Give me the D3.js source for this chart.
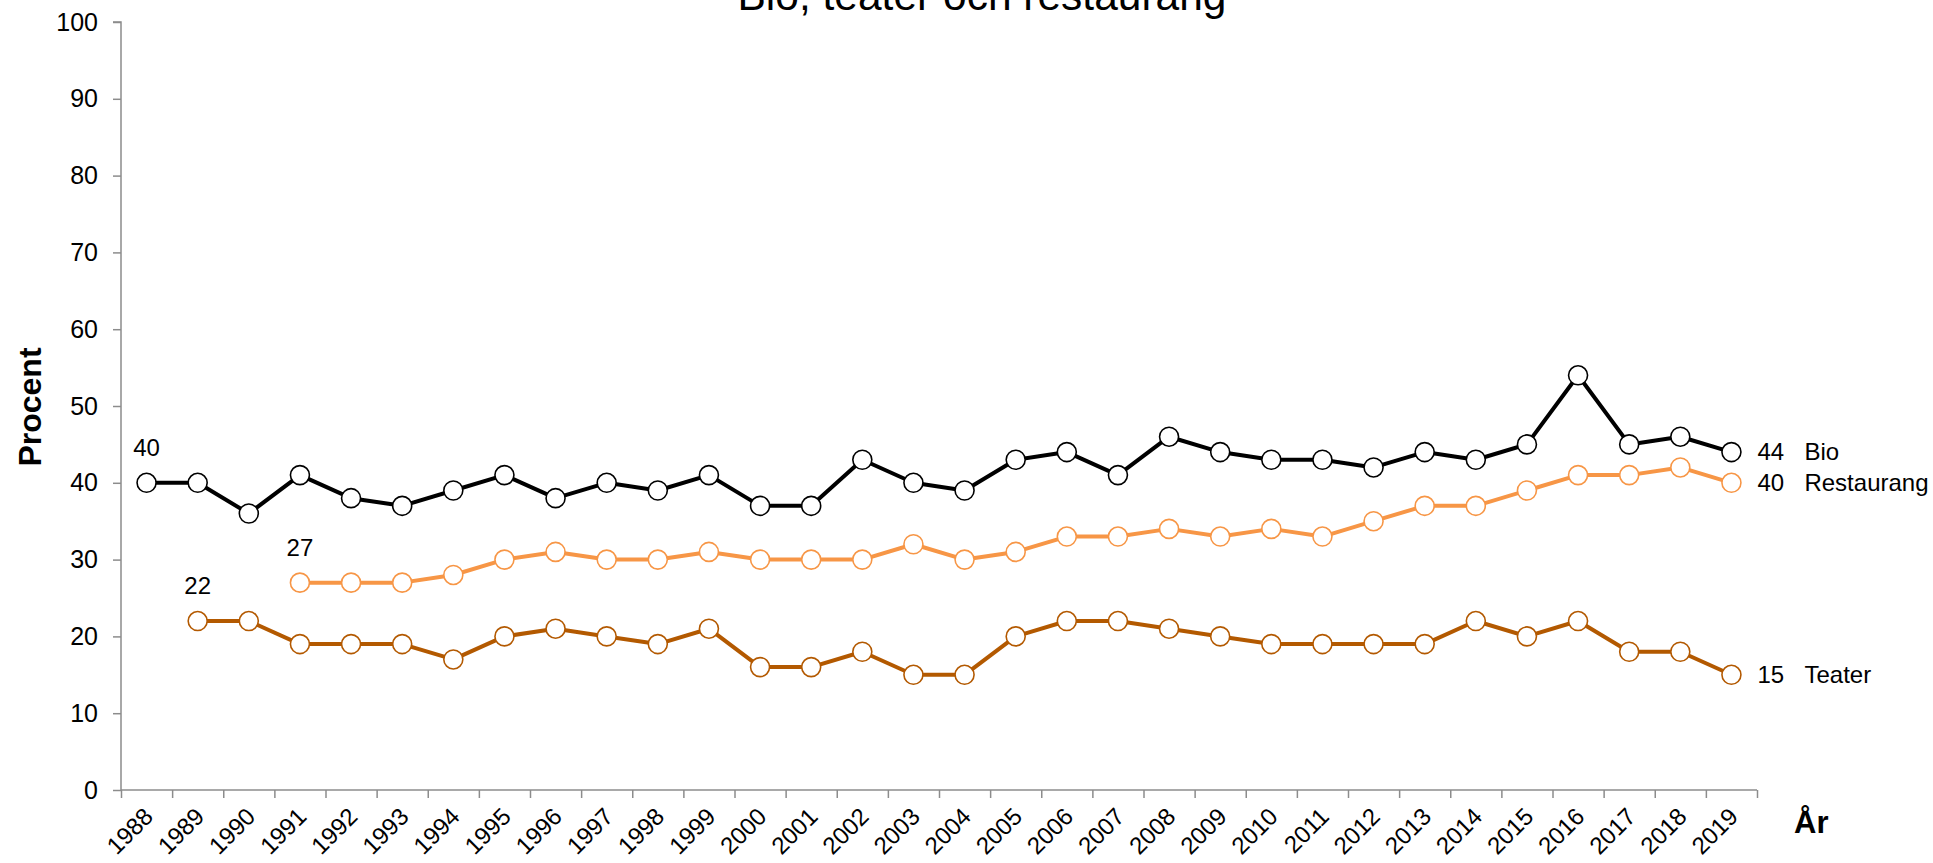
<!DOCTYPE html>
<html>
<head>
<meta charset="utf-8">
<script src="https://cdn.jsdelivr.net/npm/d3@7"></script>
<style>
  body { margin: 0; background: #fff; }
  svg { display: block; font-family: "Liberation Sans", Arial, sans-serif; }
</style>
</head>
<body>
<div id="chart"></div>
<script>
// data
const years = d3.range(1988, 2020);
const bio = [40, 40, 36, 41, 38, 37, 39, 41, 38, 40, 39, 41, 37, 37, 43, 40,
             39, 43, 44, 41, 46, 44, 43, 43, 42, 44, 43, 45, 54, 45, 46, 44];
const restaurangStart = 1991;
const restaurang = [27, 27, 27, 28, 30, 31, 30, 30, 31, 30, 30, 30, 32, 30, 31,
                    33, 33, 34, 33, 34, 33, 35, 37, 37, 39, 41, 41, 42, 40];
const teaterStart = 1989;
const teater = [22, 22, 19, 19, 19, 17, 20, 21, 20, 19, 21, 16, 16, 18, 15, 15,
                20, 22, 22, 21, 20, 19, 19, 19, 19, 22, 20, 22, 18, 18, 15];
const yTicks = [0, 10, 20, 30, 40, 50, 60, 70, 80, 90, 100];

const series = [
    { name: "Bio", start: 1988, values: bio, color: "#000000" },
    { name: "Restaurang", start: restaurangStart, values: restaurang, color: "#F79646" },
    { name: "Teater", start: teaterStart, values: teater, color: "#B35900" }
];

const svgWidth = 1933, svgHeight = 863;
const plotLeft = 121, plotRight = 1757, plotTop = 22, plotBottom = 790;

const svg = d3.select("#chart").append("svg")
    .attr("width", svgWidth)
    .attr("height", svgHeight);

const x = d3.scaleBand().domain(years).range([plotLeft, plotRight]);
const xEdge = d3.scaleLinear().domain([0, years.length]).range([plotLeft, plotRight]);
const y = d3.scaleLinear().domain([0, 100]).range([plotBottom, plotTop]);

// title
svg.append("text")
    .attr("x", 982).attr("y", 10)
    .attr("text-anchor", "middle")
    .style("font-size", "42.5px")
    .text("Bio, teater och restaurang");

// y axis
const yAxis = svg.append("g")
    .attr("transform", "translate(" + plotLeft + ",0)")
    .call(d3.axisLeft(y).tickValues(yTicks).tickSize(8).tickPadding(15));
yAxis.selectAll("text").style("font-size", "25px").attr("fill", "#000");

// x axis, ticks between categories
const xAxis = svg.append("g")
    .attr("transform", "translate(0," + plotBottom + ")")
    .call(d3.axisBottom(xEdge).tickValues(d3.range(years.length + 1)).tickSize(8).tickFormat(""));

svg.selectAll(".domain, .tick line").attr("stroke", "#8c8c8c").attr("stroke-width", 1.5);
yAxis.select(".domain").attr("d", "M0," + plotBottom + "V" + plotTop + "H-8");
xAxis.select(".domain").attr("d", "M" + plotLeft + ",0H" + plotRight);

svg.append("g").selectAll("text")
    .data(years)
    .join("text")
    .attr("transform", d => "translate(" + (x(d) + x.bandwidth() / 2 + 8) + ",818) rotate(-45)")
    .attr("text-anchor", "end")
    .style("font-size", "24px")
    .text(d => d);

// axis titles
svg.append("text")
    .attr("transform", "translate(41,407) rotate(-90)")
    .attr("text-anchor", "middle")
    .style("font-size", "32px")
    .style("font-weight", "bold")
    .text("Procent");

svg.append("text")
    .attr("x", 1794).attr("y", 833)
    .style("font-size", "31px")
    .style("font-weight", "bold")
    .text("År");

// lines and markers
const cx = yr => x(yr) + x.bandwidth() / 2;
const line = d3.line().x(d => cx(d.year)).y(d => y(d.value));

series.forEach(s => {
    const pts = s.values.map((v, i) => ({ year: s.start + i, value: v }));
    const g = svg.append("g");
    g.append("path")
        .datum(pts)
        .attr("d", line)
        .attr("fill", "none")
        .attr("stroke", s.color)
        .attr("stroke-width", 4)
        .attr("stroke-linejoin", "round");
    g.selectAll("circle")
        .data(pts)
        .join("circle")
        .attr("cx", d => cx(d.year))
        .attr("cy", d => y(d.value))
        .attr("r", 9.5)
        .attr("fill", "#fff")
        .attr("stroke", s.color)
        .attr("stroke-width", 1.6);

    const first = pts[0], last = pts[pts.length - 1];
    g.append("text")
        .attr("x", cx(first.year))
        .attr("y", y(first.value) - 27)
        .attr("text-anchor", "middle")
        .style("font-size", "24px")
        .text(first.value);
    g.append("text")
        .attr("x", cx(last.year) + 26)
        .attr("y", y(last.value))
        .attr("dy", "0.35em")
        .style("font-size", "24px")
        .text(last.value);
    g.append("text")
        .attr("x", cx(last.year) + 73)
        .attr("y", y(last.value))
        .attr("dy", "0.35em")
        .style("font-size", "24px")
        .text(s.name);
});
</script>
</body>
</html>
